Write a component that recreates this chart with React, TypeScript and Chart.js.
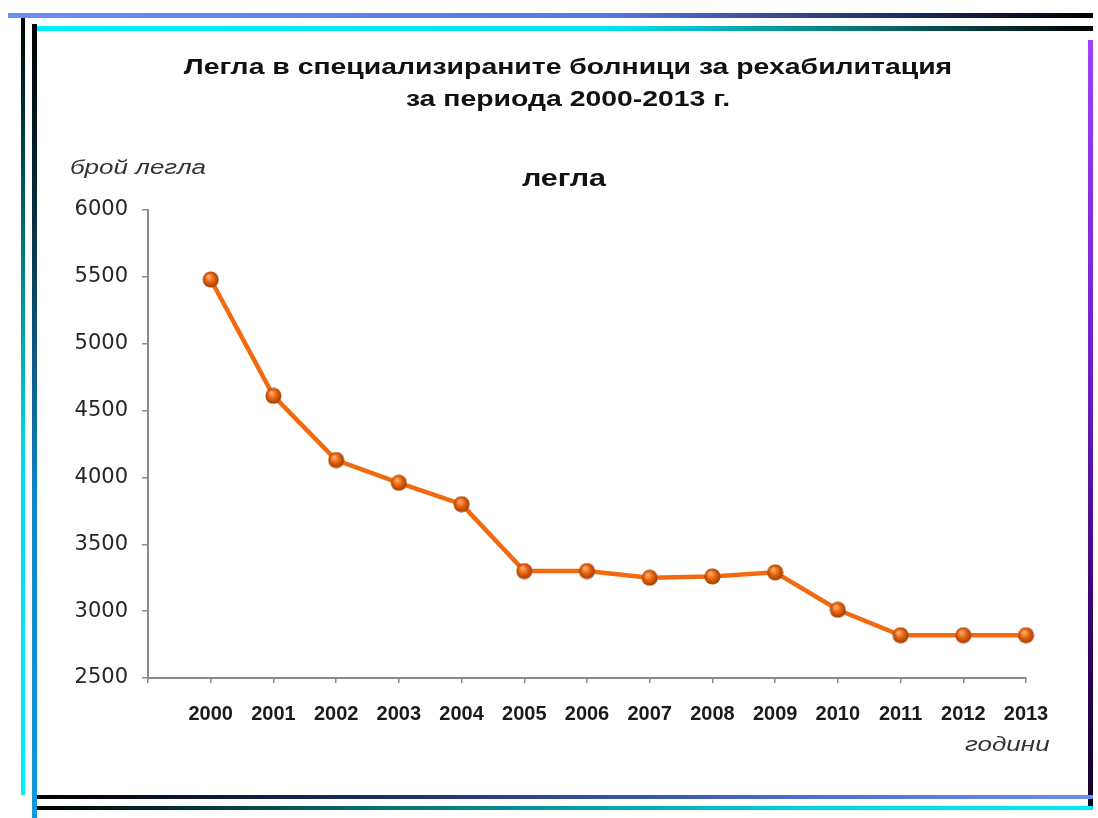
import React, { useEffect, useRef } from "react";
import { Chart, registerables } from "chart.js";

Chart.register(...registerables);

const years = [2000, 2001, 2002, 2003, 2004, 2005, 2006, 2007, 2008, 2009, 2010, 2011, 2012, 2013];
const beds = [5480, 4610, 4130, 3960, 3800, 3300, 3300, 3250, 3260, 3290, 3010, 2820, 2820, 2820];
const yTicks = [2500, 3000, 3500, 4000, 4500, 5000, 5500, 6000];

const titleLine1 = "Легла в специализираните болници за рехабилитация";
const titleLine2 = "за периода 2000-2013 г.";
const seriesName = "легла";
const yAxisTitle = "брой легла";
const xAxisTitle = "години";

function makeMarker(): HTMLCanvasElement {
  const c = document.createElement("canvas");
  c.width = 17;
  c.height = 17;
  const ctx = c.getContext("2d")!;
  const g = ctx.createRadialGradient(6.5, 5.5, 1, 8.5, 8.5, 8.5);
  g.addColorStop(0, "#ffa868");
  g.addColorStop(0.45, "#e8640e");
  g.addColorStop(1, "#983a00");
  ctx.fillStyle = g;
  ctx.beginPath();
  ctx.arc(8.5, 8.5, 8, 0, Math.PI * 2);
  ctx.fill();
  return c;
}

const line = (style: React.CSSProperties) => (
  <div style={{ position: "absolute", ...style }} />
);

const textBase: React.CSSProperties = {
  position: "absolute",
  fontFamily: "Liberation Sans, Arial",
  whiteSpace: "nowrap",
};

export default function App() {
  const ref = useRef<HTMLCanvasElement | null>(null);

  useEffect(() => {
    if (!ref.current) return;
    const marker = makeMarker();
    const chart = new Chart(ref.current, {
      type: "line",
      data: {
        datasets: [
          {
            label: seriesName,
            data: years.map((y, i) => ({ x: y, y: beds[i] })),
            borderColor: "#f26a10",
            borderWidth: 4.5,
            tension: 0,
            pointStyle: marker as any,
            pointRadius: 8,
            clip: false as any,
          },
        ],
      },
      options: {
        animation: false,
        responsive: false,
        maintainAspectRatio: false,
        layout: { padding: { left: 0, right: 72, top: 210, bottom: 0 } },
        plugins: { legend: { display: false }, tooltip: { enabled: false }, title: { display: false } },
        scales: {
          x: {
            type: "linear",
            min: 1999,
            max: 2013,
            afterFit: (s: any) => {
              s.height = 140;
            },
            ticks: {
              stepSize: 1,
              autoSkip: false,
              maxRotation: 0,
              padding: 19,
              color: "#1a1a1a",
              font: { family: "'Liberation Sans', Arial", size: 20, weight: "bold" },
              callback: (v: any) => (v === 1999 ? "" : String(v)),
            },
            grid: { drawOnChartArea: false, drawTicks: true, tickLength: 5, color: "#8a8a8a", lineWidth: 1.5 },
            border: { display: true, color: "#8a8a8a", width: 2 },
          },
          y: {
            min: 2500,
            max: 6000,
            afterFit: (s: any) => {
              s.width = 148;
            },
            afterBuildTicks: (s: any) => {
              s.ticks = yTicks.map((v) => ({ value: v }));
            },
            ticks: {
              padding: 14,
              color: "#262626",
              font: { family: "DejaVu Sans", size: 21 },
              callback: (v: any) => String(v),
            },
            grid: { drawOnChartArea: false, drawTicks: true, tickLength: 6, color: "#8a8a8a", lineWidth: 1.5 },
            border: { display: true, color: "#8a8a8a", width: 2 },
          },
        },
      },
    });
    return () => chart.destroy();
  }, []);

  return (
    <div style={{ position: "fixed", left: 0, top: 0, width: 1098, height: 818, background: "#fff", overflow: "hidden" }}>
      <canvas ref={ref} width={1098} height={818} style={{ position: "absolute", left: 0, top: 0 }} />
      {line({ left: 8, top: 13, width: 1085, height: 5, background: "linear-gradient(to right, #6c8ef2 0%, #5878e2 55%, #243070 80%, #000 100%)" })}
      {line({ left: 33, top: 26, width: 1060, height: 5, background: "linear-gradient(to right, #00eef6 0%, #00e0ea 55%, #0a6a6a 80%, #000 100%)" })}
      {line({ left: 21, top: 18, width: 4, height: 777, background: "linear-gradient(to bottom, #000 0%, #066 25%, #00d8e8 55%, #00f0f8 100%)" })}
      {line({ left: 32, top: 24, width: 5, height: 794, background: "linear-gradient(to bottom, #000 0%, #083040 25%, #1088c8 60%, #1496d8 100%)" })}
      {line({ left: 1088, top: 40, width: 5, height: 770, background: "linear-gradient(to bottom, #a040ff 0%, #7020d0 40%, #300060 80%, #100020 100%)" })}
      {line({ left: 37, top: 795, width: 1056, height: 4, background: "linear-gradient(to right, #000 0%, #1a2a60 30%, #4e70dc 75%, #6c8ef2 100%)" })}
      {line({ left: 37, top: 806, width: 1056, height: 4, background: "linear-gradient(to right, #000 0%, #0a6a6a 30%, #00d8e4 75%, #00eef6 100%)" })}

      <div style={{ ...textBase, left: 168, top: 51, width: 800, textAlign: "center", fontWeight: "bold", fontSize: 22, color: "#111", lineHeight: "32px", transform: "scaleX(1.29)", transformOrigin: "400px 0" }}>
        <div>{titleLine1}</div>
        <div>{titleLine2}</div>
      </div>
      <div style={{ ...textBase, left: 464, top: 164, width: 200, textAlign: "center", fontWeight: "bold", fontSize: 24, color: "#111", transform: "scaleX(1.27)", transformOrigin: "100px 0" }}>
        {seriesName}
      </div>
      <div style={{ ...textBase, left: 70, top: 156, fontStyle: "italic", fontSize: 20, color: "#333", transform: "scaleX(1.3)", transformOrigin: "0 0" }}>
        {yAxisTitle}
      </div>
      <div style={{ ...textBase, left: 965, top: 733, fontStyle: "italic", fontSize: 20, color: "#333", transform: "scaleX(1.3)", transformOrigin: "0 0" }}>
        {xAxisTitle}
      </div>
    </div>
  );
}
